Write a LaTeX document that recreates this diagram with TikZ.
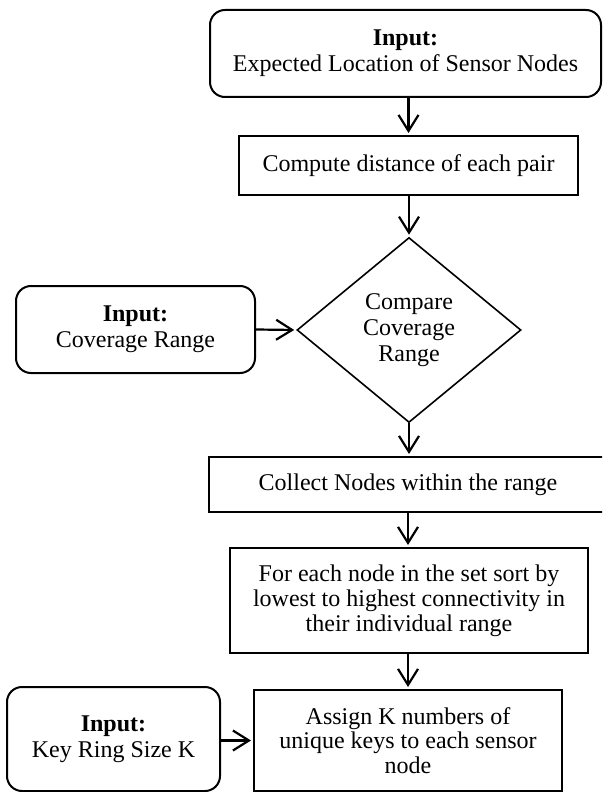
\documentclass[tikz,border=0pt]{standalone}
\usepackage{fontspec}
\setmainfont{Liberation Serif}
\usetikzlibrary{shapes.geometric,arrows.meta}

\begin{document}
\begin{tikzpicture}[x=0.5pt,y=-0.5pt,>={Straight Barb[length=8pt,width=10pt]},
  font=\fontsize{12}{13}\selectfont,
  inbox/.style={draw,line width=1pt,rounded corners=7.5pt,align=center,inner sep=0pt},
  proc/.style={draw,line width=1pt,align=center,inner sep=0pt,font=\fontsize{12}{12.4}\selectfont},
  decide/.style={draw,diamond,line width=0.8pt,align=center,inner sep=0pt},
  link/.style={->,line width=1.1pt,shorten >=1pt}]
 \useasboundingbox (0,0) rectangle (602,792);
 \clip (0,0) rectangle (602,792);

 % Inputs
 \node[inbox,minimum width=195.5pt,minimum height=43.5pt] (locin) at (405.5,53.5)
   {\textbf{Input:}\\Expected Location of Sensor Nodes};
 \node[inbox,minimum width=119.5pt,minimum height=43.5pt] (covin) at (135.5,329.5)
   {\textbf{Input:}\\Coverage Range};
 \node[inbox,minimum width=106.5pt,minimum height=52pt] (keyin) at (113.5,739)
   {\textbf{Input:}\\Key Ring Size K};

 % Steps
 \node[proc,minimum width=169.5pt,minimum height=29.5pt] (dist) at (408.5,165.5)
   {Compute distance of each pair};
 \node[decide,minimum width=112pt,minimum height=92.5pt] (cmp) at (409,330)
   {Compare\\Coverage\\Range};
 \node[proc,minimum width=199pt,minimum height=27.5pt] (collect) at (408,484.5)
   {Collect Nodes within the range};
 \node[proc,minimum width=179pt,minimum height=52.5pt] (sort) at (409,600.5)
   {For each node in the set sort by\\lowest to highest connectivity in\\their individual range};
 \node[proc,minimum width=154pt,minimum height=50.5pt] (assign) at (408,740.5)
   {Assign K numbers of\\unique keys to each sensor\\node};

 % Links
 \draw[link] (locin.south -| dist.north) -- (dist.north);
 \draw[link] (dist.south -| cmp.north) -- (cmp.north);
 \draw[link] (covin.east) -- (cmp.west);
 \draw[link] (cmp.south) -- (cmp.south |- collect.north);
 \draw[link] (collect.south) -- (collect.south |- sort.north);
 \draw[link] (sort.south -| assign.north) -- (assign.north);
 \draw[link] (keyin.east |- assign.west) -- (assign.west);
\end{tikzpicture}
\end{document}
